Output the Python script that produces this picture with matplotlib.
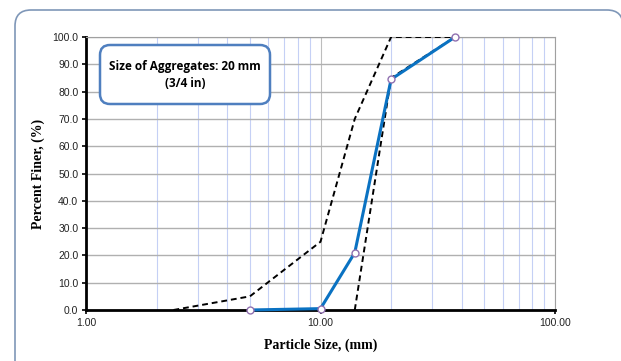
import matplotlib
matplotlib.use("Agg")
from matplotlib import pyplot as plt
from matplotlib.patches import FancyBboxPatch
from matplotlib.ticker import FixedLocator, FuncFormatter, NullFormatter

# sample gradation
sieve_mm = [5.0, 10.0, 14.0, 20.0, 37.5]
pct_finer = [0.0, 0.5, 21.0, 84.5, 100.0]

# specification limits
upper_mm = [2.36, 5.0, 10.0, 14.0, 20.0, 37.5]
upper_pct = [0.0, 5.0, 25.0, 70.0, 100.0, 100.0]
lower_mm = [14.0, 20.0, 37.5]
lower_pct = [0.0, 85.0, 100.0]

y_ticks = [0, 10, 20, 30, 40, 50, 60, 70, 80, 90, 100]
x_major = [1, 10, 100]
x_minor = [2, 3, 4, 5, 6, 7, 8, 9, 20, 30, 40, 50, 60, 70, 80, 90]

W, H, DPI = 621, 361, 100
fig = plt.figure(figsize=(W / DPI, H / DPI), dpi=DPI)


def px_box(x0, y0, x1, y1, radius, **kw):
    """Rounded box given in pixel coords from the top-left corner."""
    return FancyBboxPatch((x0 / DPI, (H - y1) / DPI), (x1 - x0) / DPI,
                          (y1 - y0) / DPI,
                          boxstyle=f"round,pad=0,rounding_size={radius / DPI}",
                          transform=fig.dpi_scale_trans, **kw)


# rounded chart frame
fig.patches.append(px_box(15, 10, 623, 420, 16, facecolor="white",
                          edgecolor="#7f97b8", linewidth=1.2, zorder=-5))

ax = fig.add_axes([86 / W, 1 - 310 / H, (555 - 86) / W, (310 - 37) / H])
ax.set_zorder(1)
ax.set_xscale("log")
ax.set_xlim(1, 100)
ax.set_ylim(0, 100)

ax.xaxis.set_major_locator(FixedLocator(x_major))
ax.xaxis.set_minor_locator(FixedLocator(x_minor))
ax.xaxis.set_major_formatter(FuncFormatter(lambda v, p: f"{v:.2f}"))
ax.xaxis.set_minor_formatter(NullFormatter())
ax.set_yticks(y_ticks)
ax.yaxis.set_major_formatter(FuncFormatter(lambda v, p: f"{v:.1f}"))

ax.grid(which="minor", axis="x", color="#c5d0f5", linewidth=0.8)
ax.grid(which="major", axis="x", color="#bdbdbd", linewidth=0.8)
ax.grid(which="major", axis="y", color="#b0b0b0", linewidth=1.0)
ax.set_axisbelow(True)

for side in ("top", "right"):
    ax.spines[side].set_color("#a0a0a0")
    ax.spines[side].set_linewidth(0.8)
for side in ("left", "bottom"):
    ax.spines[side].set_color("black")
    ax.spines[side].set_linewidth(2.0)

ax.tick_params(axis="both", which="major", length=3, width=1.2, labelsize=7.5,
               direction="out", pad=2.5, labelcolor="#222222")
ax.tick_params(axis="x", which="minor", length=0)
for lab in ax.get_xticklabels() + ax.get_yticklabels():
    lab.set_fontfamily("Liberation Sans")

ax.plot(upper_mm, upper_pct, color="black", linestyle=(0, (3, 2)),
        linewidth=1.4, zorder=3)
ax.plot(lower_mm, lower_pct, color="black", linestyle=(0, (3, 2)),
        linewidth=1.4, zorder=3)
ax.plot(sieve_mm, pct_finer, color="#0a72c2", linewidth=2.2, marker="o",
        markersize=5, markerfacecolor="white", markeredgecolor="#9070b0",
        markeredgewidth=1.0, zorder=4, clip_on=False)

ax.set_xlabel("Particle Size, (mm)", fontfamily="Liberation Serif",
              fontweight="bold", fontsize=10, labelpad=8)
ax.set_ylabel("Percent Finer, (%)", fontfamily="Liberation Serif",
              fontweight="bold", fontsize=10, labelpad=5)

# annotation box
fig.patches.append(px_box(100, 45, 270, 104, 10, facecolor="white",
                          edgecolor="#4f7fbf", linewidth=1.8, zorder=5))
fig.text(185 / W, 1 - 75 / H, "Size of Aggregates: 20 mm\n(3/4 in)",
         ha="center", va="center", fontsize=8.5, fontweight="bold",
         fontfamily="Open Sans", linespacing=1.45, zorder=6)

fig.savefig("out.png", dpi=DPI)
